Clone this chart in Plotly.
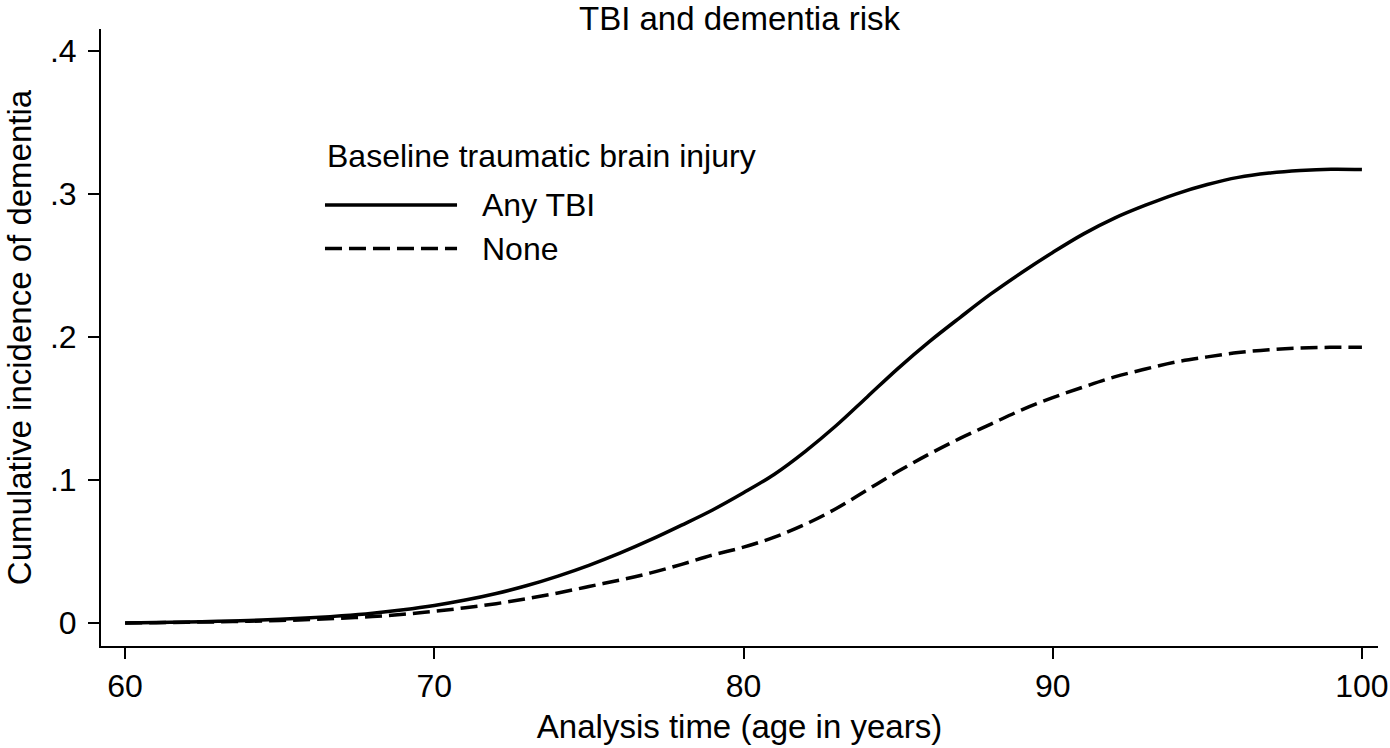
import plotly.graph_objects as go

# ---- data ----
age = list(range(60, 101))

any_tbi = [0.0000, 0.0003, 0.0007, 0.0012, 0.0018, 0.0026, 0.0036, 0.0050, 0.0068, 0.0092,
           0.0122, 0.0160, 0.0206, 0.0262, 0.0328, 0.0403, 0.0488, 0.0582, 0.0684, 0.0790,
           0.0910, 0.1040, 0.1200, 0.1380, 0.1580, 0.1780, 0.1965, 0.2135, 0.2300, 0.2450,
           0.2590, 0.2720, 0.2830, 0.2920, 0.3000, 0.3065, 0.3115, 0.3145, 0.3163, 0.3172,
           0.3170]

no_tbi = [0.0000, 0.0002, 0.0005, 0.0008, 0.0012, 0.0017, 0.0024, 0.0033, 0.0045, 0.0061,
          0.0082, 0.0106, 0.0135, 0.0170, 0.0210, 0.0255, 0.0300, 0.0350, 0.0410, 0.0475,
          0.0530, 0.0600, 0.0690, 0.0800, 0.0930, 0.1060, 0.1180, 0.1290, 0.1390, 0.1490,
          0.1575, 0.1650, 0.1720, 0.1775, 0.1825, 0.1860, 0.1890, 0.1910, 0.1922, 0.1927,
          0.1927]

series_names = ["Any TBI", "None"]
legend_title = "Baseline traumatic brain injury"
chart_title = "TBI and dementia risk"
x_title = "Analysis time (age in years)"
y_title = "Cumulative incidence of dementia"

x_tickvals = [60, 70, 80, 90, 100]
x_ticktext = ["60", "70", "80", "90", "100"]
y_tickvals = [0, 0.1, 0.2, 0.3, 0.4]
y_ticktext = ["0", ".1", ".2", ".3", ".4"]

FONT = "Liberation Sans, Arial, Helvetica, sans-serif"
FS = 32
FS_T = 33
DASH = "17px,7px"
LW = 3.5

fig = go.Figure()
fig.add_trace(go.Scatter(x=age, y=any_tbi, mode="lines", name=series_names[0],
                         line=dict(color="black", width=LW, shape="spline")))
fig.add_trace(go.Scatter(x=age, y=no_tbi, mode="lines", name=series_names[1],
                         line=dict(color="black", width=LW, dash=DASH, shape="spline")))

fig.update_layout(
    width=1390, height=748,
    margin=dict(l=101, r=12, t=29, b=102),
    paper_bgcolor="white", plot_bgcolor="white",
    font=dict(family=FONT, size=FS, color="black"),
    showlegend=False,
    title=dict(text=chart_title, x=0.5, xref="paper", xanchor="center",
               y=1 - 18 / 748, yref="container", yanchor="middle",
               font=dict(size=FS_T, color="black")),
)

fig.update_xaxes(
    range=[59.22, 100.52], tickvals=x_tickvals, ticktext=x_ticktext,
    showgrid=False, zeroline=False, showline=True, linecolor="black", linewidth=2,
    ticks="outside", ticklen=11, tickwidth=2, tickcolor="black",
    tickfont=dict(size=FS),
    title=dict(text=x_title, standoff=11, font=dict(size=FS_T)), automargin=False,
)
fig.update_yaxes(
    range=[-0.0161, 0.4152], tickvals=y_tickvals, ticktext=y_ticktext,
    showgrid=False, zeroline=False, showline=True, linecolor="black", linewidth=2,
    ticks="outside", ticklen=11, tickwidth=2, tickcolor="black",
    tickfont=dict(size=FS), ticklabelstandoff=5,
    title=dict(text=y_title, standoff=8, font=dict(size=FS_T)), automargin=False,
)

# legend drawn inside the plot (long line samples as in the reference)
lx0, lx1, ltx = 0.1754, 0.2788, 0.2968
ly = [0.7147, 0.6442]
fig.add_annotation(text=legend_title, x=lx0, y=0.7942, xref="paper", yref="paper",
                   xanchor="left", yanchor="middle", showarrow=False,
                   font=dict(size=FS, color="black"))
for name, yy, dash in zip(series_names, ly, ["solid", DASH]):
    fig.add_shape(type="line", xref="paper", yref="paper", x0=lx0, x1=lx1, y0=yy, y1=yy,
                  line=dict(color="black", width=LW, dash=dash))
    fig.add_annotation(text=name, x=ltx, y=yy, xref="paper", yref="paper",
                       xanchor="left", yanchor="middle", showarrow=False,
                       font=dict(size=FS, color="black"))

fig.write_html("out.html", config={"displayModeBar": False},
               post_script="document.body.style.margin='0';document.body.style.overflow='hidden';")
